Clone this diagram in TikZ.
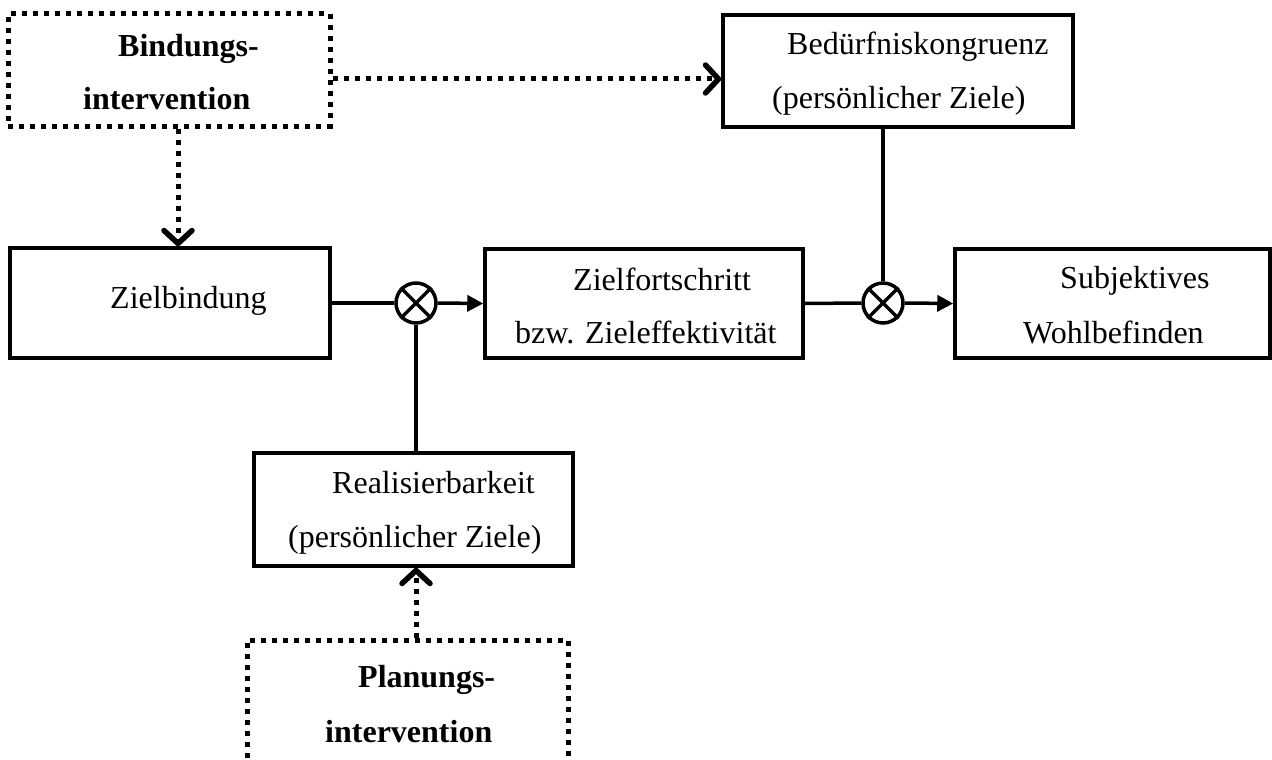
\documentclass[tikz,border=0pt]{standalone}
\usepackage{fontspec}
\setmainfont{Liberation Serif}
\usetikzlibrary{arrows.meta}
\begin{document}
\begin{tikzpicture}[x=1pt,y=-1pt,
  solidbox/.style={draw, line width=3.5pt, inner sep=0pt},
  dotline/.style={line width=5pt, dash pattern=on 5pt off 6pt},
  dotbox/.style={draw, dotline, inner sep=0pt},
  lbl/.style={anchor=base west, inner sep=0pt, font=\fontsize{32}{38}\selectfont},
  blbl/.style={lbl, font=\fontsize{32}{38}\selectfont\bfseries},
  mult/.style={circle, draw, line width=3.5pt, minimum size=40pt, inner sep=0pt},
  conn/.style={line width=3.5pt},
  flow/.style={conn, -{Triangle[length=16pt, width=16pt]}},
  dotflow/.style={dotline, -{Straight Barb[length=13pt, width=28pt, round, line width=5.5pt]}}]

\useasboundingbox (0,0) rectangle (1272,760);
\clip (0,0) rectangle (1272,760);

% boxes
\node[dotbox, minimum width=322, minimum height=112] (bind) at (169,70) {};
\node[solidbox, minimum width=350, minimum height=112] (bed) at (898,71) {};
\node[solidbox, minimum width=320, minimum height=110] (zb) at (170,303) {};
\node[solidbox, minimum width=318, minimum height=109] (zf) at (644,303.5) {};
\node[solidbox, minimum width=315, minimum height=109] (sw) at (1112.5,303.5) {};
\node[solidbox, minimum width=319, minimum height=113] (real) at (413.5,509.5) {};
\node[dotbox, minimum width=321, minimum height=180] (plan) at (407.5,730) {};

% multiplication points
\node[mult] (m1) at (416,303) {};
\node[mult] (m2) at (883,303) {};
\draw[conn] (m1.north west) -- (m1.south east) (m1.north east) -- (m1.south west);
\draw[conn] (m2.north west) -- (m2.south east) (m2.north east) -- (m2.south west);

% labels
\node[blbl] (bind1) at (118,57) {Bindungs-};
\node[blbl] (bind2) at (83,109) {intervention};
\node[lbl] (bed1) at (787,55) {Bedürfniskongruenz};
\node[lbl] (bed2) at (772,108) {(persönlicher Ziele)};
\node[lbl] (zb1) at (110,308) {Zielbindung};
\node[lbl] (zf1) at (573,290) {Zielfortschritt};
\node[lbl] (zf2) at (515,343) {bzw. Zieleffektivität};
\node[lbl] (sw1) at (1060,288) {Subjektives};
\node[lbl] (sw2) at (1023,343) {Wohlbefinden};
\node[lbl] (real1) at (332,493) {Realisierbarkeit};
\node[lbl] (real2) at (288,547) {(persönlicher Ziele)};
\node[blbl] (plan1) at (358,687) {Planungs-};
\node[blbl] (plan2) at (325,742) {intervention};

% solid connectors
\draw[conn] (zb.east) -- (m1.west);
\draw[flow] (m1.east) -- (zf.west);
\draw[conn] (zf.east) -- (m2.west);
\draw[flow] (m2.east) -- (sw.west);
\draw[conn] (m2 |- bed.south) -- (m2.north);
\draw[conn] (m1.south) -- (m1 |- real.north);

% dotted intervention arrows
\coordinate (bx) at (178,0);
\coordinate (hy) at (0,79);
\draw[dotflow] (bind.east |- hy) -- (bed.west |- hy);
\draw[dotflow] (bx |- bind.south) -- (bx |- zb.north);
\draw[dotflow] (m1 |- plan.north) -- (m1 |- real.south);
\end{tikzpicture}
\end{document}
